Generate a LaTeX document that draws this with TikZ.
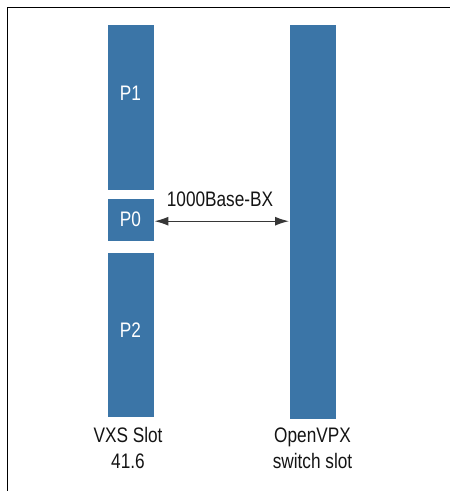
\documentclass[tikz,border=0pt]{standalone}
\usepackage{fontspec}
\setmainfont[FakeStretch=0.82]{Liberation Sans}
\usetikzlibrary{arrows.meta}
\definecolor{slotblue}{HTML}{3B75A7}
\definecolor{ink}{HTML}{141414}
\begin{document}
\begin{tikzpicture}[x=1pt,y=-1pt,
  slotbox/.style={fill=slotblue,draw=none,inner sep=0pt,anchor=north west},
  boxlabel/.style={text=white,font=\fontsize{21}{24}\selectfont,inner sep=0pt},
  caption/.style={text=ink,font=\fontsize{21}{26}\selectfont,align=center,inner sep=0pt},
  link/.style={draw=ink!85,line width=1.3pt,{Latex[length=14pt,width=9pt]}-{Latex[length=14pt,width=9pt]}}]
\useasboundingbox (0,0) rectangle (450,491);
% frame
\draw[line width=1.6pt,black] (7.5,491) -- (7.5,7.5) -- (450,7.5);
% left column
\node[slotbox,minimum width=46pt,minimum height=165pt] (p1) at (108,24.7) {};
\node[slotbox,minimum width=46pt,minimum height=42pt] (p0) at (108,199) {};
\node[slotbox,minimum width=46pt,minimum height=164pt] (p2) at (108,253) {};
% right column
\node[slotbox,minimum width=45.5pt,minimum height=394pt] (sw) at (290,24.7) {};
% labels
\node[boxlabel] (lp1) at (130.5,93) {P1};
\node[boxlabel] (lp0) at (130.5,219.5) {P0};
\node[boxlabel] (lp2) at (130.5,330) {P2};
% arrow
\coordinate (swin) at (p0.east -| sw.west);
\draw[link] ([yshift=-1pt]p0.east) -- ([yshift=-1pt,xshift=-1pt]swin);
\node[caption] (bx) at (220,199.5) {1000Base-BX};
% captions
\node[caption] (vxs) at (128,448) {VXS Slot\\41.6};
\node[caption] (ovpx) at (312.5,448) {OpenVPX\\switch slot};
\end{tikzpicture}
\end{document}
